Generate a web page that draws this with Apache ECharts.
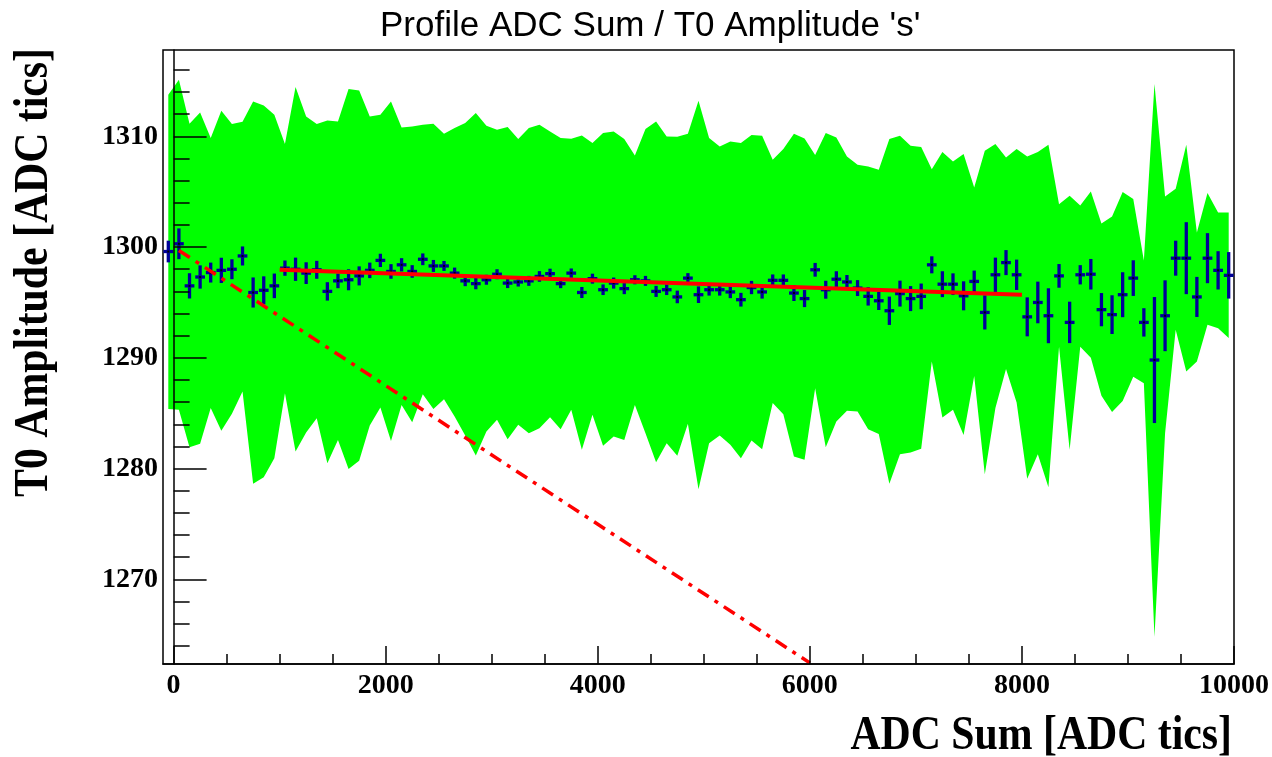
<!DOCTYPE html>
<html>
<head>
<meta charset="utf-8">
<title>Profile ADC Sum / T0 Amplitude 's'</title>
<script src="https://cdn.jsdelivr.net/npm/echarts@6/dist/echarts.min.js"></script>
<style>
  html, body { margin: 0; padding: 0; background: #fff; }
  #prof { width: 1272px; height: 757px; }
</style>
</head>
<body>
<div id="prof"></div>
<script>
// profile bins: 101 bins of 100 ADC tics from -100 to 10000
var binCenters = [-50, 50, 150, 250, 350, 450, 550, 650, 750, 850,
  950, 1050, 1150, 1250, 1350, 1450, 1550, 1650, 1750, 1850,
  1950, 2050, 2150, 2250, 2350, 2450, 2550, 2650, 2750, 2850,
  2950, 3050, 3150, 3250, 3350, 3450, 3550, 3650, 3750, 3850,
  3950, 4050, 4150, 4250, 4350, 4450, 4550, 4650, 4750, 4850,
  4950, 5050, 5150, 5250, 5350, 5450, 5550, 5650, 5750, 5850,
  5950, 6050, 6150, 6250, 6350, 6450, 6550, 6650, 6750, 6850,
  6950, 7050, 7150, 7250, 7350, 7450, 7550, 7650, 7750, 7850,
  7950, 8050, 8150, 8250, 8350, 8450, 8550, 8650, 8750, 8850,
  8950, 9050, 9150, 9250, 9350, 9450, 9550, 9650, 9750, 9850, 9950];

// mean T0 amplitude per bin
var profMean = [1299.6, 1300.3, 1296.5, 1297.3, 1297.7, 1297.9, 1298.0, 1299.2, 1295.9, 1296.1,
  1296.5, 1298.1, 1298.0, 1297.65, 1297.95, 1296.0, 1296.95, 1297.05, 1297.4, 1297.9,
  1298.8, 1297.8, 1298.4, 1297.8, 1298.9, 1298.3, 1298.3, 1297.65, 1296.95, 1296.7,
  1297.05, 1297.55, 1296.75, 1296.85, 1296.95, 1297.35, 1297.6, 1296.7, 1297.65, 1295.9,
  1297.15, 1296.15, 1296.75, 1296.25, 1297.05, 1296.95, 1296.0, 1296.15, 1295.5, 1297.2,
  1295.7, 1296.15, 1296.15, 1295.95, 1295.25, 1296.35, 1295.95, 1297.0, 1297.0, 1295.85,
  1295.35, 1297.95, 1296.15, 1297.1, 1296.85, 1296.3, 1295.55, 1295.15, 1294.25, 1295.8,
  1295.35, 1295.55, 1298.4, 1296.65, 1296.65, 1295.6, 1296.9, 1294.1, 1297.5, 1298.6,
  1297.5, 1293.7, 1295.0, 1293.8, 1297.4, 1293.2, 1297.5, 1297.55, 1294.35, 1293.9,
  1295.7, 1297.2, 1293.2, 1289.8, 1293.8, 1299.0, 1299.0, 1295.5, 1299.0, 1297.9, 1297.45];

// error on the mean
var profErr = [0.98, 1.39, 1.14, 1.05, 0.9, 1.14, 0.9, 0.86, 1.36, 1.26,
  1.11, 0.69, 1.05, 0.98, 0.81, 0.83, 0.66, 0.95, 0.86, 0.7,
  0.6, 0.66, 0.6, 0.57, 0.53, 0.54, 0.45, 0.5, 0.48, 0.51,
  0.45, 0.45, 0.45, 0.41, 0.45, 0.48, 0.45, 0.41, 0.42, 0.5,
  0.45, 0.48, 0.5, 0.5, 0.41, 0.45, 0.5, 0.48, 0.57, 0.45,
  0.75, 0.53, 0.53, 0.56, 0.62, 0.6, 0.6, 0.53, 0.53, 0.72,
  0.77, 0.62, 0.81, 0.72, 0.63, 0.72, 0.83, 0.83, 1.28, 1.17,
  1.13, 1.16, 0.77, 1.17, 0.98, 1.31, 0.98, 1.54, 1.55, 1.13,
  1.37, 1.76, 1.88, 2.48, 1.07, 1.87, 0.87, 1.38, 1.5, 1.75,
  2.03, 1.61, 1.28, 5.69, 3.2, 1.58, 3.25, 1.81, 2.26, 1.73, 2.1];

// spread band (upper / lower edge)
var bandUp = [1313.76, 1315.11, 1311.14, 1312.16, 1309.85, 1312.31, 1311.11, 1311.32, 1313.15, 1312.79,
  1311.95, 1309.3, 1314.45, 1311.8, 1311.11, 1311.44, 1311.35, 1314.27, 1314.15, 1311.8,
  1311.95, 1313.15, 1310.8, 1310.89, 1311.05, 1311.14, 1310.23, 1310.75, 1311.2, 1312.1,
  1310.96, 1310.6, 1310.84, 1309.76, 1310.75, 1311.05, 1310.44, 1309.85, 1309.78, 1310.08,
  1309.39, 1310.3, 1310.44, 1309.76, 1308.27, 1310.66, 1311.35, 1309.99, 1309.96, 1310.23,
  1313.22, 1309.85, 1309.09, 1309.54, 1309.39, 1310.12, 1310.05, 1307.89, 1308.85, 1310.23,
  1309.81, 1308.31, 1310.3, 1309.9, 1308.18, 1307.43, 1307.28, 1306.98, 1309.76, 1310.05,
  1309.15, 1309.03, 1307.04, 1308.58, 1307.73, 1308.4, 1305.38, 1308.7, 1309.3, 1308.09,
  1308.85, 1308.18, 1308.58, 1309.24, 1303.88, 1304.63, 1303.76, 1305.02, 1302.13, 1302.76,
  1304.97, 1304.34, 1298.8, 1314.72, 1304.57, 1305.27, 1309.24, 1301.32, 1304.88, 1303.13, 1303.13];

var bandLow = [1285.37, 1285.3, 1281.93, 1282.23, 1285.46, 1283.41, 1284.94, 1286.96, 1278.62, 1279.22,
  1280.94, 1286.81, 1281.54, 1283.25, 1284.55, 1280.49, 1282.59, 1279.97, 1280.7, 1283.89,
  1285.51, 1282.5, 1285.75, 1284.19, 1286.72, 1285.39, 1286.27, 1284.7, 1282.98, 1281.17,
  1283.34, 1284.4, 1282.65, 1283.95, 1283.2, 1283.65, 1284.64, 1283.56, 1285.3, 1281.69,
  1284.85, 1282.05, 1282.89, 1282.59, 1285.75, 1283.2, 1280.58, 1282.29, 1281.15, 1284.04,
  1278.14, 1282.29, 1282.98, 1282.14, 1280.94, 1282.53, 1281.75, 1285.91, 1284.91, 1281.09,
  1280.79, 1287.26, 1281.93, 1284.25, 1285.21, 1285.15, 1283.56, 1283.13, 1278.62, 1281.3,
  1281.45, 1281.78, 1289.67, 1284.61, 1285.3, 1283.04, 1288.37, 1279.49, 1285.46, 1288.98,
  1285.96, 1279.07, 1281.3, 1278.32, 1291.0, 1281.69, 1291.0, 1290.0, 1286.57, 1285.1,
  1286.1, 1288.3, 1287.71, 1264.8, 1283.2, 1292.53, 1288.76, 1289.67, 1292.98, 1292.68, 1291.78];

// linear fit and reference line
var fitX = [1000, 8000];
var fitY = [1297.95, 1295.7];
var refX = [50, 6000];
var refY = [1299.7, 1262.45];

// ticks
var xLabels = [0, 2000, 4000, 6000, 8000, 10000];
var xMinor = [0, 500, 1000, 1500, 2000, 2500, 3000, 3500, 4000, 4500, 5000,
  5500, 6000, 6500, 7000, 7500, 8000, 8500, 9000, 9500, 10000];
var yLabels = [1270, 1280, 1290, 1300, 1310];
var yMinor = [1264, 1266, 1268, 1270, 1272, 1274, 1276, 1278, 1280, 1282, 1284, 1286,
  1288, 1290, 1292, 1294, 1296, 1298, 1300, 1302, 1304, 1306, 1308, 1310, 1312, 1314, 1316];

var serif = '"Liberation Serif", "DejaVu Serif", serif';
var plain = function (v) { return String(v); };

var errData = binCenters.map(function (x, i) { return [x, profMean[i], profErr[i]]; });

// green spread band as one polygon through the axis scales
function renderBand(params, api) {
  var pts = [];
  for (var i = 0; i < binCenters.length; i++) {
    pts.push(api.coord([binCenters[i], bandUp[i]]));
  }
  for (var j = binCenters.length - 1; j >= 0; j--) {
    pts.push(api.coord([binCenters[j], bandLow[j]]));
  }
  return { type: 'polygon', shape: { points: pts }, style: { fill: '#00ff00' } };
}

function renderErr(params, api) {
  var x = api.value(0), y = api.value(1), e = api.value(2);
  var top = api.coord([x, y + e]);
  var bot = api.coord([x, y - e]);
  var lft = api.coord([x - 46, y]);
  var rgt = api.coord([x + 46, y]);
  var c = api.coord([x, y]);
  return {
    type: 'group',
    children: [
      { type: 'line', shape: { x1: top[0], y1: top[1], x2: bot[0], y2: bot[1] },
        style: { stroke: '#000099', lineWidth: 3.3 } },
      { type: 'line', shape: { x1: lft[0], y1: lft[1], x2: rgt[0], y2: rgt[1] },
        style: { stroke: '#000099', lineWidth: 3.3 } },
      { type: 'rect', shape: { x: c[0] - 1, y: c[1] - 1, width: 2, height: 2 },
        style: { fill: '#000' } }
    ]
  };
}

var chart = echarts.init(document.getElementById('prof'));
var option = {
  animation: false,
  backgroundColor: '#fff',
  title: {
    text: "Profile ADC Sum / T0 Amplitude 's'",
    left: 375,
    top: 4,
    textStyle: { fontFamily: '"Liberation Sans", Arial, sans-serif', fontSize: 35, fontWeight: 'normal', color: '#000' }
  },
  grid: {
    left: 163, top: 50, right: 38, bottom: 93,
    show: true, borderColor: '#000', borderWidth: 1.5, backgroundColor: 'transparent'
  },
  xAxis: [
    {
      type: 'value', min: -100, max: 10000, position: 'bottom', z: 10,
      splitLine: { show: false },
      axisLine: { show: true, lineStyle: { color: '#000', width: 1.5 } },
      axisTick: { show: true, inside: true, length: 18, customValues: xLabels, lineStyle: { color: '#000', width: 1.5 } },
      axisLabel: { customValues: xLabels, formatter: plain, fontFamily: serif, fontWeight: 'bold', fontSize: 28, color: '#000', margin: 8 }
    },
    {
      type: 'value', min: -100, max: 10000, position: 'bottom', z: 10,
      splitLine: { show: false },
      axisLine: { show: false },
      axisTick: { show: true, inside: true, length: 10, customValues: xMinor, lineStyle: { color: '#000', width: 1.5 } },
      axisLabel: { show: false }
    }
  ],
  yAxis: [
    {
      type: 'value', min: 1262.35, max: 1317.8, position: 'left', z: 10,
      splitLine: { show: false },
      axisLine: { show: true, lineStyle: { color: '#000', width: 1.5 } },
      axisTick: { show: true, inside: true, length: 33, customValues: yLabels, lineStyle: { color: '#000', width: 1.5 } },
      axisLabel: { customValues: yLabels, formatter: plain, fontFamily: serif, fontWeight: 'bold', fontSize: 28, color: '#000', margin: 5 }
    },
    {
      type: 'value', min: 1262.35, max: 1317.8, position: 'left', z: 10,
      splitLine: { show: false },
      axisLine: { show: false },
      axisTick: { show: true, inside: true, length: 16, customValues: yMinor, lineStyle: { color: '#000', width: 1.5 } },
      axisLabel: { show: false }
    }
  ],
  graphic: [
    {
      type: 'text', x: 1232, y: 737, scaleX: 0.87,
      style: { text: 'ADC Sum [ADC tics]', fontFamily: serif, fontWeight: 'bold', fontSize: 48,
        fill: '#000', align: 'right', verticalAlign: 'middle' }
    },
    {
      type: 'text', x: 35, y: 48, rotation: Math.PI / 2, scaleX: 0.87,
      style: { text: 'T0 Amplitude [ADC tics]', fontFamily: serif, fontWeight: 'bold', fontSize: 48,
        fill: '#000', align: 'right', verticalAlign: 'middle' }
    }
  ],
  series: [
    {
      name: 'band', type: 'custom', data: [[binCenters[0], bandUp[0]]],
      renderItem: renderBand, clip: true, silent: true, z: 1
    },
    {
      name: 'profile', type: 'custom', data: errData, renderItem: renderErr, clip: true, z: 3
    },
    {
      name: 'reference', type: 'line', data: [[refX[0], refY[0]], [refX[1], refY[1]]],
      showSymbol: false, silent: true, clip: true, z: 4,
      lineStyle: { color: '#ff0000', width: 3.5, type: [13, 7, 4, 7] }
    },
    {
      name: 'fit', type: 'line', data: [[fitX[0], fitY[0]], [fitX[1], fitY[1]]],
      showSymbol: false, silent: true, z: 4,
      lineStyle: { color: '#ff0000', width: 4 }
    }
  ]
};
chart.setOption(option);
</script>
</body>
</html>
